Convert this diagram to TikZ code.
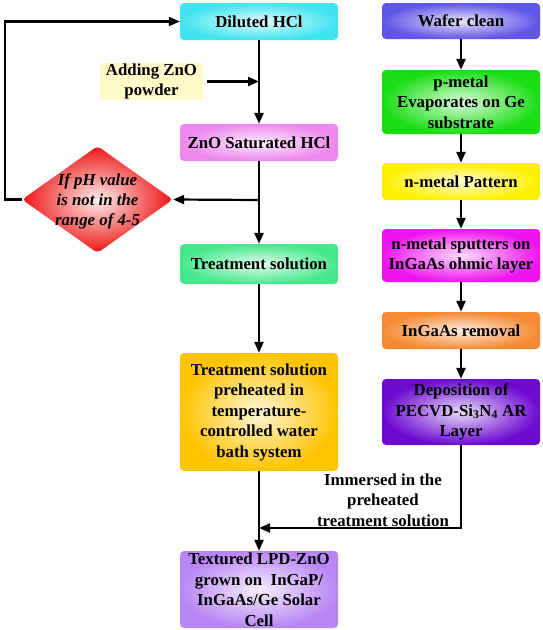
\documentclass[tikz,border=0pt]{standalone}
\usepackage{fontspec}
\setmainfont{Liberation Serif}
\usetikzlibrary{arrows.meta,shapes.geometric}
\definecolor{cDil}{RGB}{64,228,240}
\definecolor{cZns}{RGB}{238,135,238}
\definecolor{cTrs}{RGB}{70,232,140}
\definecolor{cPre}{RGB}{255,196,0}
\definecolor{cTex}{RGB}{185,135,245}
\definecolor{cAdd}{RGB}{255,250,200}
\definecolor{cWaf}{RGB}{95,85,232}
\definecolor{cPm}{RGB}{25,222,20}
\definecolor{cNmp}{RGB}{255,240,0}
\definecolor{cNms}{RGB}{238,20,238}
\definecolor{cIng}{RGB}{245,138,50}
\definecolor{cDep}{RGB}{108,10,208}
\definecolor{cDia}{RGB}{240,20,20}
\tikzset{
  txt/.style={font=\bfseries\fontsize{16.8}{20.5}\selectfont, align=center, text=black},
  box/.style={txt, rounded corners=4pt, inner sep=0pt, minimum width=158pt, inner color=#1!15!white, outer color=#1},
  arr/.style={line width=2.2pt, -{Triangle[length=11pt,width=9pt]}},
  ln/.style={line width=2.2pt}
}
\begin{document}
\begin{tikzpicture}[x=1pt,y=-1pt]
\useasboundingbox (0,0) rectangle (542,630);
% left column
\node[box=cDil, minimum height=37pt] (dil) at (259,21.5) {Diluted HCl};
\node[txt, fill=cAdd, rounded corners=2pt, inner sep=0pt, minimum width=103pt, minimum height=37pt] (add) at (151.5,81.5) {Adding ZnO\\powder};
\node[box=cZns, minimum height=37pt] (zns) at (259,142.5) {ZnO Saturated HCl};
\node[diamond, minimum width=151pt, minimum height=107pt, inner sep=0pt, rounded corners=4pt, inner color=cDia!8!white, outer color=cDia] (dia) at (97.5,199.5) {};
\node[txt, font=\bfseries\itshape\fontsize{16.8}{20}\selectfont] (diat) at (97.5,201) {If pH value\\is not in the\\range of 4-5};
\node[box=cTrs, minimum height=40pt] (trs) at (259,264) {Treatment solution};
\node[box=cPre, minimum height=118pt] (pre) at (259,412) {Treatment solution\\preheated in\\temperature-\\controlled water\\bath system};
\node[box=cTex, minimum height=77pt] (tex) at (259,589.5) {Textured LPD-ZnO\\grown on\ \ InGaP/\\InGaAs/Ge Solar\\Cell};
% right column
\node[box=cWaf, minimum height=36pt] (waf) at (461,21) {Wafer clean};
\node[box=cPm, minimum height=64pt] (pm) at (461,102) {p-metal\\Evaporates on Ge\\substrate};
\node[box=cNmp, minimum height=37pt] (nmp) at (461,181.5) {n-metal Pattern};
\node[box=cNms, minimum height=53pt] (nms) at (461,255.5) {n-metal sputters on\\InGaAs ohmic layer};
\node[box=cIng, minimum height=37pt] (ing) at (461,330.5) {InGaAs removal};
\node[box=cDep, minimum height=66pt] (dep) at (461,412) {Deposition of\\PECVD-Si\textsubscript{3}N\textsubscript{4} AR\\Layer};
\node[txt] (imm) at (383,500) {Immersed in the\\preheated\\treatment solution};
% coordinates
\coordinate (j1) at (259,81.5);
\coordinate (j2) at (259,200);
\coordinate (j3) at (259,528);
% connectors left
\draw[arr] (dil) -- (zns);
\draw[arr] ([xshift=4pt]add.east) -- (j1);
\draw[arr] (zns) -- (trs);
\draw[arr] (j2) -- (dia.east);
\draw[arr] (dia.west) -- ++(-17,0) |- (dil.west);
\draw[arr] (trs) -- (pre);
\draw[arr] (pre) -- (tex);
% connectors right
\draw[arr] (waf) -- (pm);
\draw[arr] (pm) -- (nmp);
\draw[arr] (nmp) -- (nms);
\draw[arr] (nms) -- (ing);
\draw[arr] (ing) -- (dep);
\draw[arr] (dep.south) |- (j3);
\end{tikzpicture}
\end{document}
